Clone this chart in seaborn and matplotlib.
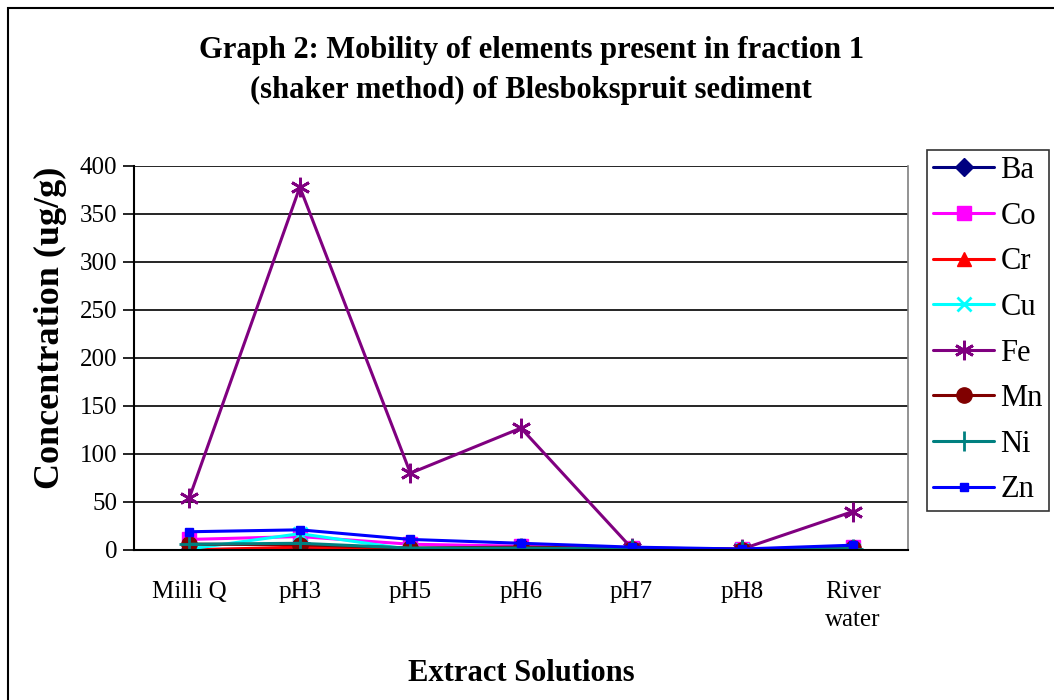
import pandas as pd
import numpy as np
import matplotlib
matplotlib.use('Agg')
import matplotlib.pyplot as plt
import seaborn as sns
from matplotlib.patches import Rectangle

solutions = ['Milli Q', 'pH3', 'pH5', 'pH6', 'pH7', 'pH8', 'River\nwater']
elements = ['Ba', 'Co', 'Cr', 'Cu', 'Fe', 'Mn', 'Ni', 'Zn']

ba = [0.5, 1.0, 0.5, 0.5, 0.3, 0.2, 0.5]
co = [11, 14, 6, 4, 2, 1, 3]
cr = [0, 3, 1, 1, 0.5, 0.3, 1]
cu = [1, 17, 0.5, 0.5, 0.3, 0.2, 0.5]
fe = [54, 378, 80, 127, 2, 1, 40]
mn = [6, 5.5, 2, 3, 1.5, 0.5, 2]
ni = [6, 7, 2, 2, 1, 0.5, 1.5]
zn = [19, 21, 11, 7, 3, 1, 5]

values = {'Ba': ba, 'Co': co, 'Cr': cr, 'Cu': cu, 'Fe': fe, 'Mn': mn, 'Ni': ni, 'Zn': zn}
colors = {'Ba': '#000080', 'Co': '#FF00FF', 'Cr': '#FF0000', 'Cu': '#00FFFF',
          'Fe': '#800080', 'Mn': '#800000', 'Ni': '#008080', 'Zn': '#0000FF'}
markers = {'Ba': 'D', 'Co': 's', 'Cr': '^', 'Cu': 'x', 'Fe': (6, 2, 0),
           'Mn': 'o', 'Ni': '+', 'Zn': 's'}
msizes = {'Ba': 9, 'Co': 10, 'Cr': 10, 'Cu': 10, 'Fe': 14, 'Mn': 11, 'Ni': 14, 'Zn': 6}

sns.set_style('white')
plt.rcParams['font.family'] = ['Liberation Serif', 'DejaVu Serif']
for key in ['text.color', 'axes.labelcolor', 'xtick.color', 'ytick.color']:
    plt.rcParams[key] = 'black'

fig = plt.figure(figsize=(10.54, 7.0), dpi=100)
ax = fig.add_axes([0.1271, 0.2143, 0.7344, 0.5486])

x = np.arange(len(solutions))
for el in elements:
    df = pd.DataFrame({'x': x, 'y': values[el]})
    lw_m = 2 if markers[el] in ('x', '+', (6, 2, 0)) else 1
    sns.lineplot(data=df, x='x', y='y', ax=ax, color=colors[el], linewidth=2.2,
                 marker=markers[el], markersize=msizes[el], markeredgewidth=lw_m,
                 markeredgecolor=colors[el], markerfacecolor=colors[el], label=el)

ax.set_xlim(-0.5, 6.5)
ax.set_ylim(0, 400)
ax.set_yticks(range(0, 401, 50))
ax.yaxis.grid(True, color='black', linewidth=1.2)
ax.set_axisbelow(True)

ax.set_xticks(x)
ax.set_xticklabels(solutions, fontsize=18, linespacing=1.4)
ax.set_xticks(np.arange(-0.5, 7.0, 1.0), minor=True)
ax.tick_params(axis='x', which='major', length=0, pad=22)
ax.tick_params(axis='x', which='minor', length=7, width=1.2, direction='out', color='black')
ax.tick_params(axis='y', labelsize=18, length=8, width=1.2, direction='out', color='black', pad=4, left=True)

for side in ['left', 'bottom']:
    ax.spines[side].set_color('black')
    ax.spines[side].set_linewidth(1.5)
ax.spines['top'].set_visible(False)
ax.spines['right'].set_color('#808080')
ax.spines['right'].set_linewidth(1.2)

ax.set_xlabel('Extract Solutions', fontsize=22, fontweight='bold', labelpad=20)
ax.set_ylabel('')
fig.text(50 / 1054, 1 - 328 / 700, 'Concentration (ug/g)', rotation=90,
         fontsize=26, fontweight='bold', ha='center', va='center')

fig.text(0.504, 0.948, 'Graph 2: Mobility of elements present in fraction 1\n(shaker method) of Blesbokspruit sediment',
         ha='center', va='top', fontsize=22, fontweight='bold', linespacing=1.48)

ax.get_legend().remove()
handles, labels = ax.get_legend_handles_labels()
leg = fig.legend(handles, labels, loc='upper left', bbox_to_anchor=(0.8795, 0.786),
                 fontsize=22, frameon=True, fancybox=False, edgecolor='black',
                 handlelength=2.0, handletextpad=0.2, labelspacing=0.545,
                 borderpad=0.2, borderaxespad=0)
leg.get_frame().set_linewidth(1.2)

fig.patches.append(Rectangle((0.008, -0.01), 1.2, 0.998, transform=fig.transFigure,
                             fill=False, edgecolor='black', linewidth=1.5))

fig.savefig('out.png', dpi=100)
